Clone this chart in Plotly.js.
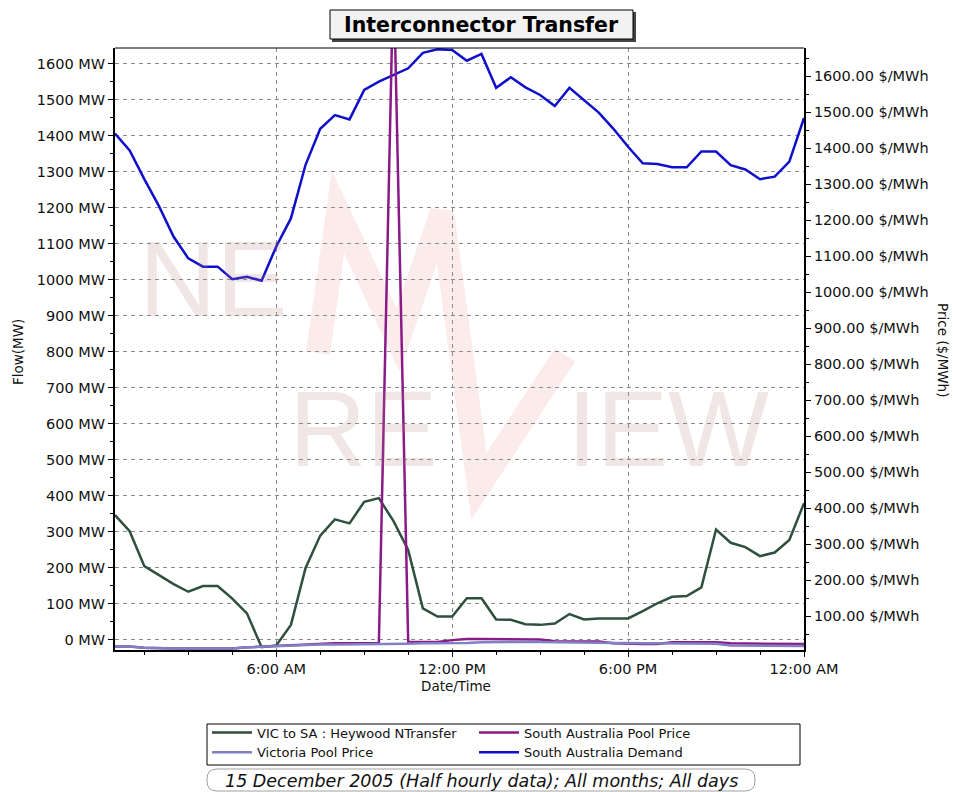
<!DOCTYPE html>
<html>
<head>
<meta charset="utf-8">
<script src="https://cdn.plot.ly/plotly-3.0.1.min.js"></script>
<style>html,body{margin:0;padding:0;background:#fff;}#chart{width:953px;height:792px;}</style>
</head>
<body>
<div id="chart"></div>
<script>
// ---- data (half-hourly, 15 December 2005) ----
const times = ['00:30','01:00','01:30','02:00','02:30','03:00','03:30','04:00','04:30','05:00','05:30','06:00',
               '06:30','07:00','07:30','08:00','08:30','09:00','09:30','10:00','10:30','11:00','11:30','12:00',
               '12:30','13:00','13:30','14:00','14:30','15:00','15:30','16:00','16:30','17:00','17:30','18:00',
               '18:30','19:00','19:30','20:00','20:30','21:00','21:30','22:00','22:30','23:00','23:30','24:00'];
// VIC to SA : Heywood NTransfer (MW)
const heywood = [347, 302, 205, 180, 155, 134, 150, 150, 115, 74, -20, -15,
                 42, 200, 290, 335, 324, 384, 394, 330, 250, 88, 65, 65,
                 116, 116, 57, 56, 44, 42, 46, 72, 57, 60, 60, 60,
                 80, 102, 120, 122, 146, 307, 270, 258, 233, 243, 278, 380];
// South Australia Pool Price ($/MWh)
const saPrice = [15, 15, 12, 10, 10, 10, 10, 10, 10, 13, 15, 17,
                 17, 19, 21, 24, 24, 25, 25, 1900, 28, 28, 28, 33,
                 36, 36, 36, 36, 35, 35, 30, 29, 29, 29, 24, 22,
                 22, 22, 27, 27, 27, 27, 24, 24, 22, 22, 22, 22];
// Victoria Pool Price ($/MWh)
const vicPrice = [15, 15, 12, 10, 10, 10, 10, 10, 10, 13, 15, 17,
                  17, 19, 21, 21, 21, 22, 22, 23, 23, 24, 24, 25,
                  25, 27, 28, 28, 28, 28, 28, 28, 27, 26, 25, 25,
                  24, 24, 24, 24, 23, 23, 18, 18, 17, 17, 17, 17];
// South Australia Demand (MW)
const saDemand = [1407, 1360, 1280, 1205, 1120, 1060, 1037, 1037, 1002, 1009, 998, 1093,
                  1171, 1320, 1420, 1458, 1446, 1528, 1551, 1570, 1588, 1631, 1641, 1639,
                  1609, 1628, 1534, 1563, 1535, 1514, 1483, 1534, 1500, 1465, 1420, 1370,
                  1324, 1322, 1313, 1313, 1357, 1357, 1319, 1307, 1280, 1287, 1329, 1450];
const seriesNames = ['VIC to SA : Heywood NTransfer', 'South Australia Pool Price',
                     'Victoria Pool Price', 'South Australia Demand'];
const xTickVals = [6, 12, 18, 24];
const xTickText = ['6:00 AM', '12:00 PM', '6:00 PM', '12:00 AM'];

// ---- helpers ----
const hours = times.map(t => { const p = t.split(':'); return +p[0] + (+p[1]) / 60; });
const W = 953, H = 792, ML = 115, MR = 149, MT = 48, MB = 142;
const PW = W - ML - MR, PH = H - MT - MB;
const px = v => (v - ML) / PW;          // pixel x -> paper x
const py = v => (H - MB - v) / PH;      // pixel y -> paper y
const FONT = 'DejaVu Sans, Verdana, sans-serif';
const WMFONT = 'Liberation Sans, Arial, sans-serif';

const traces = [
  {x: hours, y: heywood, name: seriesNames[0], type: 'scatter', mode: 'lines',
   line: {color: '#2f4f3f', width: 2.5}, yaxis: 'y'},
  {x: hours, y: saPrice, name: seriesNames[1], type: 'scatter', mode: 'lines',
   line: {color: '#8b1a89', width: 2.5}, yaxis: 'y2'},
  {x: hours, y: vicPrice, name: seriesNames[2], type: 'scatter', mode: 'lines',
   line: {color: '#8080c4', width: 2.5}, yaxis: 'y2'},
  {x: hours, y: saDemand, name: seriesNames[3], type: 'scatter', mode: 'lines',
   line: {color: '#1010cc', width: 2.5}, yaxis: 'y'}
];

// rounded pill for the subtitle
function pill(x0p, x1p, y0p, y1p, r) {
  const x0 = px(x0p), x1 = px(x1p), yb = py(y1p), yt = py(y0p);
  const rx = r / PW, ry = r / PH;
  return `M${x0+rx},${yt} L${x1-rx},${yt} Q${x1},${yt} ${x1},${yt-ry} L${x1},${yb+ry} Q${x1},${yb} ${x1-rx},${yb} ` +
         `L${x0+rx},${yb} Q${x0},${yb} ${x0},${yb+ry} L${x0},${yt-ry} Q${x0},${yt} ${x0+rx},${yt} Z`;
}
function ppath(pts) {
  return pts.map((p, i) => (i ? 'L' : 'M') + px(p[0]) + ',' + py(p[1])).join(' ');
}
function note(text, xPix, yPix, font, extra) {
  return Object.assign({text: text, x: px(xPix), y: py(yPix), xref: 'paper', yref: 'paper',
    xanchor: 'center', yanchor: 'middle', showarrow: false, font: font}, extra || {});
}

const wmFont = {family: WMFONT, size: 107, color: 'rgba(180,130,130,0.2)'};
const lblFont = {family: FONT, size: 13.5, color: '#111'};

const layout = {
  width: W, height: H,
  margin: {l: ML, r: MR, t: MT, b: MB, pad: 0},
  paper_bgcolor: '#ffffff',
  plot_bgcolor: 'rgba(0,0,0,0)',
  font: {family: FONT, size: 14, color: '#111'},
  showlegend: true,
  xaxis: {
    range: [0.5, 24], tickmode: 'array', tickvals: xTickVals, ticktext: xTickText,
    showgrid: true, gridcolor: '#8a8a8a', gridwidth: 1, griddash: '4px,4px',
    showline: true, linecolor: '#000', linewidth: 2, zeroline: false,
    ticks: 'outside', ticklen: 5, tickcolor: '#000',
    minor: {tickmode: 'linear', tick0: 0, dtick: 1.5, ticks: 'outside', ticklen: 3, tickcolor: '#000', showgrid: false},
    tickfont: {family: FONT, size: 14.5, color: '#111'}, fixedrange: true, automargin: false
  },
  yaxis: {
    range: [-27.8, 1644.4], tickmode: 'linear', tick0: 0, dtick: 100, ticksuffix: ' MW',
    showgrid: true, gridcolor: '#8a8a8a', gridwidth: 1, griddash: '4px,4px',
    showline: true, linecolor: '#000', linewidth: 2, zeroline: false,
    ticks: 'outside', ticklen: 5, tickcolor: '#000',
    minor: {dtick: 50, ticks: 'outside', ticklen: 3, tickcolor: '#000', showgrid: false},
    tickfont: {family: FONT, size: 14.5, color: '#111'}, automargin: false
  },
  yaxis2: {
    overlaying: 'y', side: 'right', range: [5.56, 1677.8], tickmode: 'linear', tick0: 0, dtick: 100,
    tickformat: '.2f', ticksuffix: ' $/MWh', showgrid: false, zeroline: false,
    showline: true, linecolor: '#000', linewidth: 2,
    ticks: 'outside', ticklen: 5, tickcolor: '#000',
    minor: {dtick: 50, ticks: 'outside', ticklen: 3, tickcolor: '#000', showgrid: false},
    tickfont: {family: FONT, size: 14.5, color: '#111'}, automargin: false
  },
  legend: {
    orientation: 'h', x: px(207), y: py(717.5), xanchor: 'left', yanchor: 'top',
    borderwidth: 0, bgcolor: 'rgba(0,0,0,0)',
    entrywidth: 212, entrywidthmode: 'pixels', itemwidth: 40, tracegroupgap: 0,
    font: {family: FONT, size: 13, color: '#111'}
  },
  shapes: [
    // watermark M / V stroke
    {type: 'path', xref: 'paper', yref: 'paper', layer: 'below',
     path: ppath([[318,353],[338,212],[398,340],[442,212],[479,486],[565,355]]),
     line: {color: 'rgba(225,70,70,0.11)', width: 24}},
    // top frame line
    {type: 'line', xref: 'paper', yref: 'paper', x0: 0, x1: 1, y0: 1, y1: 1, line: {color: '#000', width: 1}},
    // title box shadow + box
    {type: 'rect', xref: 'paper', yref: 'paper', x0: px(332), x1: px(636), y0: py(42), y1: py(12),
     fillcolor: '#444', line: {width: 0}},
    {type: 'rect', xref: 'paper', yref: 'paper', x0: px(330), x1: px(633), y0: py(39), y1: py(10),
     fillcolor: '#f2f2f2', line: {color: '#000', width: 1}},
    // legend frame
    {type: 'rect', xref: 'paper', yref: 'paper', x0: px(207), x1: px(800), y0: py(765), y1: py(724),
     fillcolor: 'rgba(0,0,0,0)', line: {color: '#000', width: 1}},
    // subtitle pill
    {type: 'path', xref: 'paper', yref: 'paper', path: pill(207, 755, 769, 791, 10),
     fillcolor: '#fff', line: {color: '#a0a0a0', width: 1}}
  ],
  annotations: [
    // watermark letters
    note('NE', 213, 279, wmFont),
    note('RE', 363, 429, wmFont),
    note('IEW', 668, 429, wmFont),
    // title
    note('<b>Interconnector Transfer</b>', 481.5, 25, {family: FONT, size: 20.5, color: '#000'}),
    // axis titles
    note('Flow(MW)', 18, 352, lblFont, {textangle: -90}),
    note('Price ($/MWh)', 943, 350, lblFont, {textangle: 90}),
    note('Date/Time', 456, 686, lblFont),
    // subtitle
    note('<i>15 December 2005 (Half hourly data); All months; All days</i>', 481, 780.5,
         {family: FONT, size: 17.5, color: '#111'})
  ]
};

Plotly.newPlot('chart', traces, layout, {displayModeBar: false, staticPlot: true});
</script>
</body>
</html>
